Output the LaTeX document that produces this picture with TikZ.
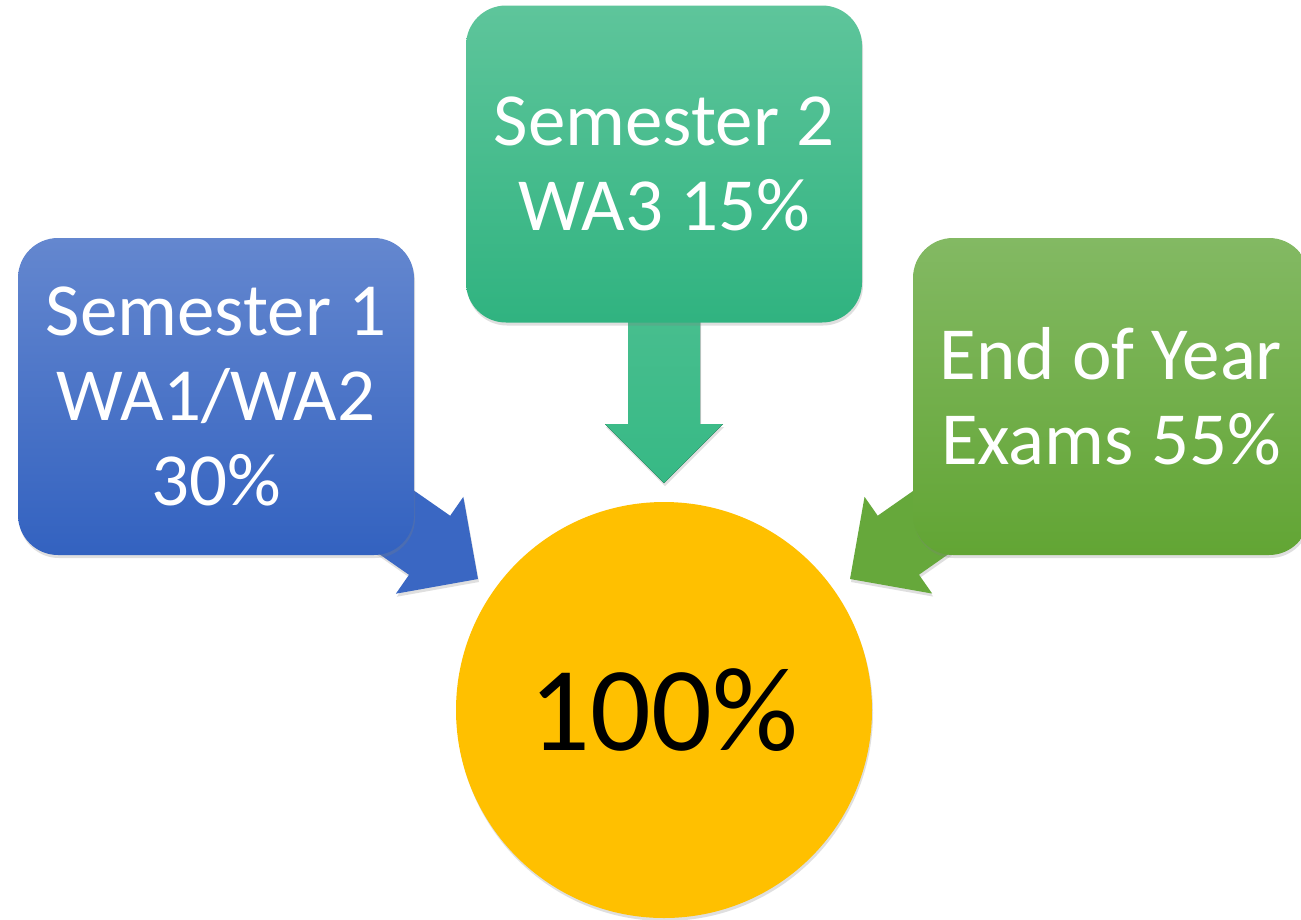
\documentclass[tikz,border=0pt]{standalone}
\usepackage{fontspec}
\setmainfont{Carlito}
\usetikzlibrary{calc,shadows,backgrounds}

\definecolor{semAtop}{HTML}{6487CF}
\definecolor{semAbot}{HTML}{3362C0}
\definecolor{semAarrow}{HTML}{3A67C3}
\definecolor{semBtop}{HTML}{5EC59B}
\definecolor{semBbot}{HTML}{30B380}
\definecolor{semBarrow}{HTML}{37B985}
\definecolor{eoyTop}{HTML}{83B963}
\definecolor{eoyBot}{HTML}{62A534}
\definecolor{eoyArrow}{HTML}{66A83B}
\definecolor{totalFill}{HTML}{FFC000}

% block arrow from #2 to #3, filled with #1
\newcommand\blockarrow[3]{%
  \coordinate (h) at ($(#3)!59pt!(#2)$);
  \fill[#1] ($(#2)!36pt!90:(#3)$) -- ($(h)!36pt!90:(#3)$) -- ($(h)!59pt!90:(#3)$) -- (#3)
    -- ($(h)!59pt!-90:(#3)$) -- ($(h)!36pt!-90:(#3)$) -- ($(#2)!36pt!-90:(#3)$) -- cycle;}

\begin{document}
\begin{tikzpicture}[x=1pt,y=-1pt,
    softshadow/.style={drop shadow={shadow xshift=1pt,shadow yshift=-3pt,opacity=.25}},
    box/.style={rounded corners=40pt,minimum width=396pt,minimum height=317pt,
      inner sep=0pt,align=center,text=white,font=\fontsize{75}{85}\selectfont,softshadow}]
  \useasboundingbox (0,0) rectangle (1301,919);

  \node[box,top color=semAtop,bottom color=semAbot] (sem1) at (216,396.5) {Semester 1\\WA1/WA2\\30\%};
  \node[box,top color=semBtop,bottom color=semBbot] (sem2) at (664,164) {Semester 2\\WA3 15\%};
  \node[box,top color=eoyTop,bottom color=eoyBot] (eoy) at (1111,396.5) {End of Year\\Exams 55\%};
  \node[circle,minimum size=416pt,inner sep=0pt,fill=totalFill,softshadow,
    font=\fontsize{120}{120}\selectfont] (total) at (664,710) {100\%};

  \coordinate (sem1tip) at (478,579);
  \coordinate (sem2tip) at (664,483);
  \coordinate (eoytip) at (850,579);

  \begin{scope}[on background layer]
    \fill[white] (0,0) rectangle (1301,919);
    \blockarrow{semAarrow,softshadow}{sem1.center}{sem1tip}
    \blockarrow{top color=semBtop!80!semBarrow,bottom color=semBarrow,softshadow}{sem2.center}{sem2tip}
    \blockarrow{eoyArrow,softshadow}{eoy.center}{eoytip}
  \end{scope}
\end{tikzpicture}
\end{document}
